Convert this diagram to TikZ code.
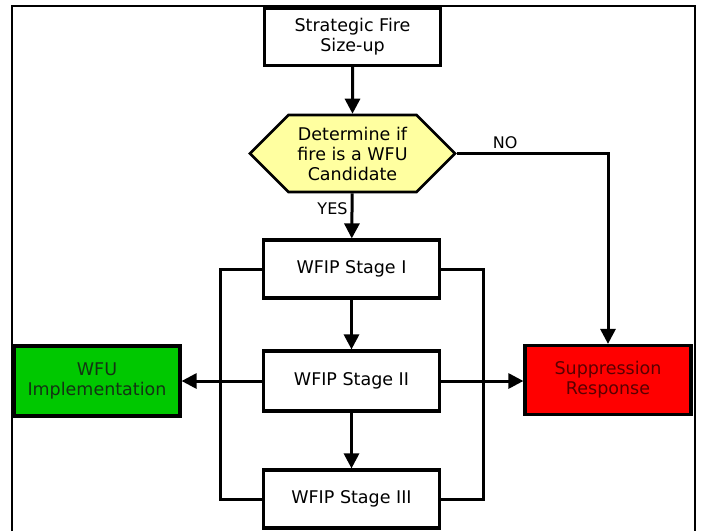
\documentclass[tikz,border=0pt]{standalone}
\usepackage{fontspec}
\setmainfont{DejaVu Sans}
\usetikzlibrary{arrows.meta,shapes.symbols}
\definecolor{hexfill}{RGB}{255,255,160}
\definecolor{wfugreen}{RGB}{0,200,0}
\definecolor{wfutext}{RGB}{20,50,20}
\definecolor{suptext}{RGB}{90,0,0}
\tikzset{
  box/.style={draw, line width=3.2pt, minimum width=176pt, align=center, inner sep=0pt, fill=white},
  txt/.style={font=\fontsize{17.5}{20}\selectfont},
  conn/.style={line width=3pt},
  arr/.style={conn, -{Triangle[length=15pt,width=15pt]}},
  lbl/.style={font=\fontsize{16}{18}\selectfont, inner sep=0pt}
}
\begin{document}
\begin{tikzpicture}[x=1pt,y=-1pt]
\useasboundingbox (0,0) rectangle (702,531);
% frame
\draw[line width=2.2pt] (12,531) -- (12,6) -- (695,6) -- (695,531);
% nodes
\node[box, txt, minimum height=57pt] (sfs) at (352.5,37) {Strategic Fire\\Size-up};
\node[txt, draw, line width=2.6pt, fill=hexfill, signal, signal to=west and east,
      signal pointer angle=90, minimum width=205pt, minimum height=77pt,
      inner sep=0pt, align=center] (dec) at (352.5,153.5) {Determine if\\fire is a WFU\\Candidate};
\node[box, txt, minimum height=58pt] (s1) at (351.5,269) {WFIP Stage I};
\node[box, txt, minimum height=60pt] (s2) at (351.5,381) {WFIP Stage II};
\node[box, txt, minimum height=58pt] (s3) at (351.5,499) {WFIP Stage III};
\node[box, txt, fill=wfugreen, text=wfutext, minimum width=166pt, minimum height=70pt] (wfu) at (97,381) {WFU\\Implementation};
\node[box, txt, fill=red, text=suptext, minimum width=166pt, minimum height=69pt] (sup) at (608,380) {Suppression\\Response};
% connectors
\draw[arr] (sfs) -- (dec);
\draw[arr] (dec) -- node[lbl, left=3pt, pos=0.35] {YES} (s1);
\draw[arr] (dec.east) -| node[lbl, pos=0.16, above=3pt] {NO} (sup.north);
\draw[arr] (s1) -- (s2);
\draw[arr] (s2) -- (s3);
\draw[arr] (s2.west) -- (wfu.east);
\draw[arr] (s2.east) -- (s2.east -| sup.west);
% brackets
\draw[conn] (s1.west) -- ++(-41,0) |- (s3.west);
\draw[conn] (s1.east) -- ++(42,0) |- (s3.east);
\end{tikzpicture}
\end{document}
